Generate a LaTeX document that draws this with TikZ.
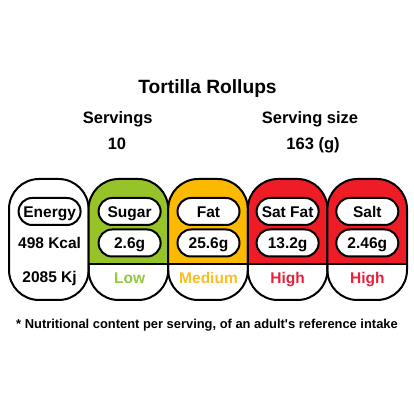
\documentclass[tikz,border=0pt]{standalone}
\usepackage{fontspec}
\setmainfont{Liberation Sans}
\definecolor{lowfill}{RGB}{150,196,40}
\definecolor{lowtext}{RGB}{146,200,60}
\definecolor{medfill}{RGB}{251,186,0}
\definecolor{medtext}{RGB}{250,190,30}
\definecolor{highfill}{RGB}{238,28,36}
\definecolor{hightext}{RGB}{232,32,60}
\tikzset{
  cardtxt/.style={font=\fontsize{15.5}{18}\selectfont\bfseries, text height=11.1pt, text depth=0pt, inner sep=0pt},
  pill/.style={cardtxt, draw=black, line width=2pt, fill=white, rounded corners=13.5pt, minimum width=62pt, minimum height=27pt},
  cardline/.style={line width=2pt, rounded corners=30pt},
  headtxt/.style={font=\fontsize{16.5}{19}\selectfont\bfseries, anchor=base, inner sep=0pt},
}
\newcommand{\mycard}[4]{% x0, x1, fill colour, name
  \begin{scope}
    \clip[rounded corners=30pt] (#1,114) rectangle (#2,235);
    \fill[#3] (#1,150) rectangle (#2,235);
  \end{scope}
  \draw[line width=1.5pt] (#1,150) -- (#2,150);
  \draw[cardline] (#1,114) rectangle (#2,235);
}
\begin{document}
\begin{tikzpicture}[x=1pt,y=1pt]
\useasboundingbox (0,0) rectangle (414,414);
\fill[white] (0,0) rectangle (414,414);

\node[font=\fontsize{19.2}{22}\selectfont\bfseries, anchor=base, inner sep=0pt] (title) at (207.5,320.7) {Tortilla Rollups};
\node[headtxt] (serv) at (117.7,290.7) {Servings};
\node[headtxt] (servn) at (117,264) {10};
\node[headtxt] (size) at (310,290.7) {Serving size};
\node[headtxt] (sizen) at (313,264) {163 (g)};

% card 1 (energy)
\draw[cardline] (9,114) rectangle (88.6,235);
% other cards
\mycard{88.6}{168.2}{lowfill}{c2}
\mycard{168.2}{247.8}{medfill}{c3}
\mycard{247.8}{327.4}{highfill}{c4}
\mycard{327.4}{407}{highfill}{c5}

% energy
\node[pill] (energy) at (49.6,202.5) {Energy};
\node[cardtxt] (kcal) at (49.6,170.7) {498 Kcal};
\node[cardtxt] (kj) at (49.6,137.5) {2085 Kj};
% sugar
\node[pill] (sugar) at (129.6,202.5) {Sugar};
\node[pill] (sugarv) at (129.6,171) {2.6g};
\node[cardtxt, text=lowtext] (sugarl) at (129.6,136.5) {Low};
% fat
\node[pill] (fat) at (208.5,202.5) {Fat};
\node[pill] (fatv) at (208.5,171) {25.6g};
\node[cardtxt, text=medtext] (fatl) at (208.5,136.5) {Medium};
% sat fat
\node[pill] (sat) at (287.6,202.5) {Sat Fat};
\node[pill] (satv) at (287.6,171) {13.2g};
\node[cardtxt, text=hightext] (satl) at (287.6,136.5) {High};
% salt
\node[pill] (salt) at (367.3,202.5) {Salt};
\node[pill] (saltv) at (367.3,171) {2.46g};
\node[cardtxt, text=hightext] (saltl) at (367.3,136.5) {High};

\node[font=\fontsize{12.9}{15}\selectfont\bfseries, anchor=base, inner sep=0pt] (foot) at (207,85.7) {* Nutritional content per serving, of an adult\textquotesingle s reference intake};
\end{tikzpicture}
\end{document}
